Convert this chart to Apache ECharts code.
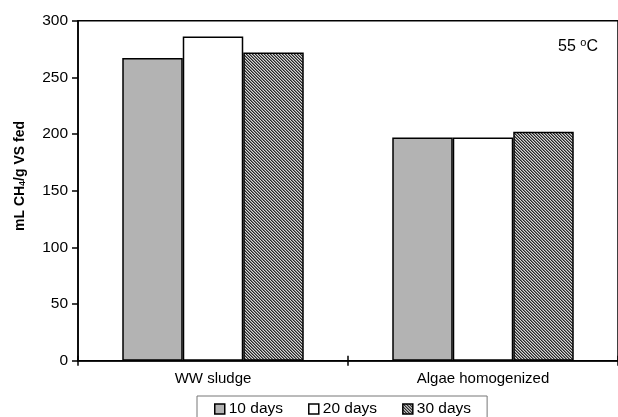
<!DOCTYPE html>
<html>
<head>
<meta charset="utf-8">
<script src="https://cdn.jsdelivr.net/npm/echarts@6/dist/echarts.min.js"></script>
<style>
  html, body { margin: 0; padding: 0; background: #fff; }
  #chart { width: 618px; height: 417px; }
</style>
</head>
<body>
<div id="chart"></div>
<script>
var categories = ['WW sludge', 'Algae homogenized'];
var seriesNames = ['10 days', '20 days', '30 days'];
var days10 = [267, 197];
var days20 = [286, 197];
var days30 = [272, 202];
var yTicks = [0, 50, 100, 150, 200, 250, 300];

// fine diagonal hatch for the 30 days bars
function makeHatch() {
  var c = document.createElement('canvas');
  c.width = 3;
  c.height = 3;
  var ctx = c.getContext('2d');
  var shades = ['#262626', '#7a7a7a', '#d6d6d6'];
  for (var i = 0; i < 3; i++) {
    for (var j = 0; j < 3; j++) {
      ctx.fillStyle = shades[((i - j) % 3 + 3) % 3];
      ctx.fillRect(i, j, 1, 1);
    }
  }
  return c;
}

var font = 'Liberation Sans, Arial, sans-serif';
var fills = ['#b3b3b3', '#ffffff', { image: makeHatch(), repeat: 'repeat' }];
var values = [days10, days20, days30];

var series = [];
for (var k = 0; k < seriesNames.length; k++) {
  series.push({
    name: seriesNames[k],
    type: 'bar',
    data: values[k],
    barWidth: 60.5,
    barGap: '0%',
    itemStyle: { color: fills[k], borderColor: '#000', borderWidth: 1.5 }
  });
}

var option = {
  animation: false,
  backgroundColor: '#fff',
  grid: {
    left: 78, right: -2, top: 20.7, bottom: 56.3,
    show: true, borderColor: '#000', borderWidth: 1.5, backgroundColor: 'transparent'
  },
  legend: {
    data: seriesNames,
    icon: 'rect',
    left: 197,
    top: 396,
    padding: [5, 16, 10, 17],
    itemGap: 25,
    itemWidth: 10,
    itemHeight: 10,
    borderColor: '#777',
    borderWidth: 1,
    itemStyle: { borderColor: '#000', borderWidth: 1.5 },
    textStyle: { fontFamily: font, fontSize: 15.5, color: '#000', padding: [0, 0, 0, -1] }
  },
  xAxis: [{
    type: 'category',
    data: categories,
    axisLine: { lineStyle: { color: '#000', width: 1.5 } },
    axisTick: { show: true, length: 5, interval: 0, lineStyle: { color: '#000', width: 1.5 } },
    axisLabel: { fontFamily: font, fontSize: 15, color: '#000', margin: 11 }
  }, {
    type: 'category',
    data: categories,
    position: 'bottom',
    axisLine: { show: false },
    axisTick: { show: true, inside: true, length: 5, interval: 0, lineStyle: { color: '#000', width: 1.5 } },
    axisLabel: { show: false }
  }],
  yAxis: {
    type: 'value',
    min: yTicks[0],
    max: yTicks[yTicks.length - 1],
    interval: 50,
    splitLine: { show: false },
    axisLine: { show: true, lineStyle: { color: '#000', width: 1.5 } },
    axisTick: { show: true, length: 6, lineStyle: { color: '#000', width: 1.5 } },
    axisLabel: { fontFamily: font, fontSize: 15.5, color: '#000', margin: 10 }
  },
  graphic: [{
    type: 'text',
    x: 20,
    y: 176,
    rotation: Math.PI / 2,
    style: {
      text: 'mL CH{sub|4}/g VS fed',
      fontFamily: font,
      fontSize: 14,
      fontWeight: 'bold',
      fill: '#000',
      align: 'center',
      verticalAlign: 'middle',
      rich: {
        sub: { fontFamily: font, fontSize: 9, fontWeight: 'bold', fill: '#000', verticalAlign: 'bottom', padding: [6, 0, 0, 0] }
      }
    }
  }, {
    type: 'text',
    x: 578,
    y: 47,
    style: {
      text: '55 {sup|o}C',
      fontFamily: font,
      fontSize: 16,
      fill: '#000',
      align: 'center',
      verticalAlign: 'middle',
      rich: {
        sup: { fontFamily: font, fontSize: 11, fill: '#000', verticalAlign: 'top', padding: [0, 0, 8, 0] }
      }
    }
  }],
  series: series
};

var myChart = echarts.init(document.getElementById('chart'));
myChart.setOption(option);
</script>
</body>
</html>
